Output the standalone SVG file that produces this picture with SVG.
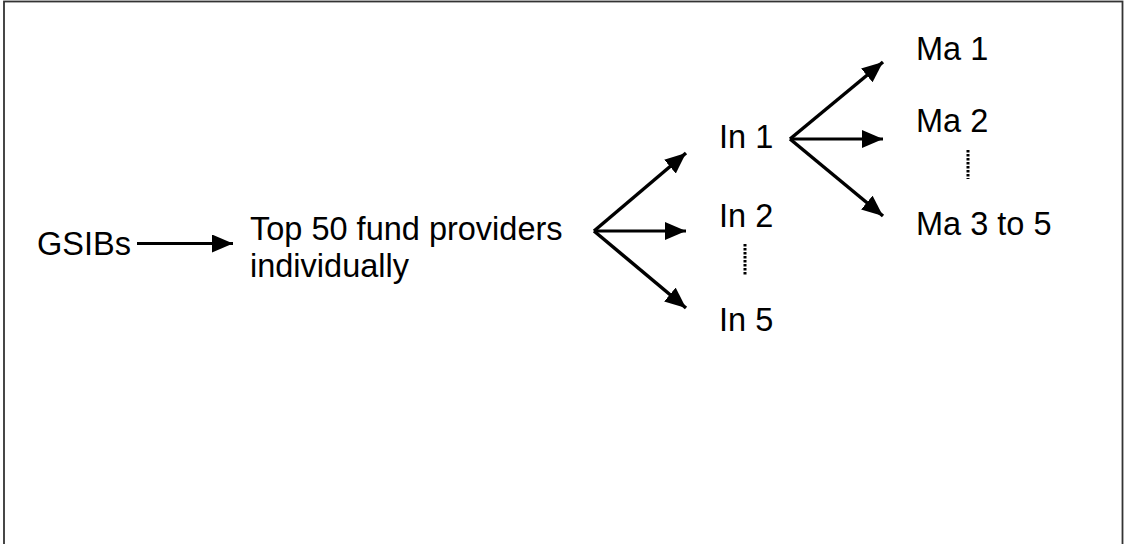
<svg xmlns="http://www.w3.org/2000/svg" width="1125" height="544" viewBox="0 0 1125 544">
<style>
text{font-family:"Liberation Sans",Arial,sans-serif;font-size:32.5px;fill:#000}
.c{stroke:#000;stroke-width:3.5;fill:none}
.h{stroke:#000;stroke-width:2.8;fill:none}
.d{stroke:#000;stroke-width:3;stroke-dasharray:2.5,1.5;fill:none}
</style>
<defs>
<marker id="ah" markerUnits="userSpaceOnUse" markerWidth="24" markerHeight="20" refX="21" refY="9" orient="auto">
<path d="M0,0 L21,9 L0,18 z" fill="#000"/>
</marker>
</defs>
<rect width="1125" height="544" fill="#fff"/>
<rect x="4" y="1.5" width="1118.5" height="600" fill="none" stroke="#333" stroke-width="1.8"/>
<g id="connectors">
<line class="h" x1="137" y1="243.5" x2="233" y2="243.5" marker-end="url(#ah)"/>
<line class="c" x1="594" y1="231" x2="686" y2="153" marker-end="url(#ah)"/>
<line class="h" x1="594" y1="231" x2="686" y2="231" marker-end="url(#ah)"/>
<line class="c" x1="594" y1="231" x2="686" y2="308" marker-end="url(#ah)"/>
<line class="c" x1="790" y1="139" x2="883" y2="62" marker-end="url(#ah)"/>
<line class="h" x1="790" y1="139" x2="883" y2="139" marker-end="url(#ah)"/>
<line class="c" x1="790" y1="139" x2="883" y2="216" marker-end="url(#ah)"/>
<line class="d" x1="745" y1="244" x2="745" y2="275"/>
<line class="d" x1="968" y1="150" x2="968" y2="179"/>
</g>
<g id="gsibs"><text x="37" y="255">GSIBs</text></g>
<g id="top50"><text x="250" y="240">Top 50 fund providers</text><text x="250" y="277">individually</text></g>
<g id="in1"><text x="719" y="148">In 1</text></g>
<g id="in2"><text x="719" y="227">In 2</text></g>
<g id="in5"><text x="719" y="331">In 5</text></g>
<g id="ma1"><text x="916" y="60">Ma 1</text></g>
<g id="ma2"><text x="916" y="132">Ma 2</text></g>
<g id="ma35"><text x="916" y="235">Ma 3 to 5</text></g>
</svg>
